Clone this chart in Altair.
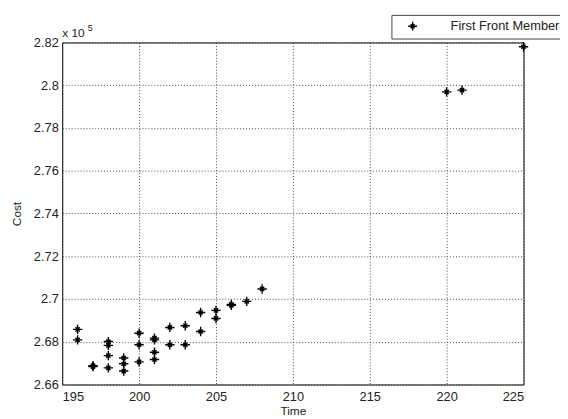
import altair as alt
import pandas as pd

# Data (cost shown in units of 1e5)
time = [196, 196, 197, 197, 198, 198, 198, 198, 199, 199, 199, 200, 200, 200,
        201, 201, 201, 201, 202, 202, 203, 203, 204, 204, 205, 205, 206, 206,
        207, 208, 220, 221, 225]
cost = [2.6858, 2.6809, 2.6688, 2.6684, 2.6801, 2.6783, 2.6735, 2.6678,
        2.6724, 2.6697, 2.6663, 2.6840, 2.6786, 2.6706, 2.6817, 2.6809,
        2.6751, 2.6717, 2.6867, 2.6786, 2.6875, 2.6786, 2.6937, 2.6848,
        2.6947, 2.6909, 2.6975, 2.6970, 2.6989, 2.7047, 2.7969, 2.7977,
        2.8180]
series_name = "First Front Member"
x_ticks = [195, 200, 205, 210, 215, 220, 225]
y_ticks = [2.66, 2.68, 2.70, 2.72, 2.74, 2.76, 2.78, 2.80, 2.82]

df = pd.DataFrame({"Time": time, "Cost": cost, "series": [series_name] * len(time)})

FONT = "Liberation Sans"
STAR = "M-1,0H1M0,-1V1M-0.45,-0.45L0.45,0.45M-0.45,0.45L0.45,-0.45"

points = alt.Chart(df).mark_point(
    filled=False, stroke="black", strokeWidth=1.4, size=90, opacity=1
).encode(
    x=alt.X("Time:Q", scale=alt.Scale(domain=[195, 225], nice=False, zero=False),
            axis=alt.Axis(values=x_ticks, title="Time", format="d")),
    y=alt.Y("Cost:Q", scale=alt.Scale(domain=[2.66, 2.82], nice=False, zero=False),
            axis=alt.Axis(values=y_ticks, title="Cost", format=".2~f")),
    shape=alt.Shape("series:N",
                    scale=alt.Scale(domain=[series_name], range=[STAR]),
                    legend=alt.Legend(title=None, orient="none", legendX=334, legendY=-28,
                                      padding=5, strokeColor="#444", fillColor="white",
                                      symbolOffset=10, labelOffset=32,
                                      symbolStrokeColor="black", symbolStrokeWidth=1.4,
                                      symbolFillColor="transparent", symbolSize=80,
                                      labelFont=FONT, labelFontSize=13, labelColor="#222")),
)

exp_text = alt.Chart(pd.DataFrame({"t": ["x 10"]})).mark_text(
    align="left", baseline="alphabetic", font=FONT, fontSize=12, color="#222"
).encode(x=alt.value(0), y=alt.value(-6), text="t:N")

exp_sup = alt.Chart(pd.DataFrame({"t": ["5"]})).mark_text(
    align="left", baseline="alphabetic", font=FONT, fontSize=9, color="#222"
).encode(x=alt.value(26), y=alt.value(-12), text="t:N")

chart = alt.layer(points, exp_text, exp_sup).properties(
    width=468, height=347,
    autosize=alt.AutoSizeParams(type="none"),
    padding={"left": 55, "top": 32, "right": 37, "bottom": 32},
).configure_view(
    stroke="black", strokeWidth=1
).configure_axis(
    grid=True, gridColor="#333", gridDash=[1, 2], gridWidth=1, gridOpacity=0.9,
    ticks=False, domain=False,
    labelFont=FONT, labelFontSize=13, labelColor="#222",
    titleFont=FONT, titleFontSize=12, titleFontWeight="normal", titleColor="#222",
).configure_axisX(
    labelPadding=6, titlePadding=2
).configure_axisY(
    labelPadding=4, titlePadding=10
)

chart.save("out.html", embed_options={"renderer": "svg", "actions": False})
